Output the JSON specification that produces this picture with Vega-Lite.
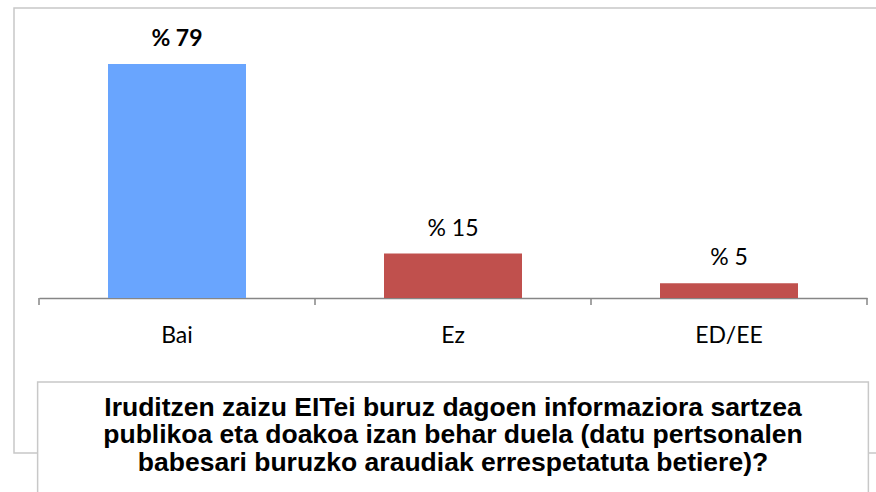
{
  "$schema": "https://vega.github.io/schema/vega-lite/v6.json",
  "width": 872,
  "height": 445,
  "autosize": "none",
  "padding": {"left": 14, "top": 8, "right": 0, "bottom": 39},
  "background": "white",
  "config": {
    "view": {"stroke": "#c8c8c8", "strokeWidth": 1.5}
  },
  "data": {
    "values": [
      {"cat": "Bai", "pct": 79, "label": "% 79"},
      {"cat": "Ez", "pct": 15, "label": "% 15"},
      {"cat": "ED/EE", "pct": 5, "label": "% 5"}
    ]
  },
  "encoding": {
    "x": {
      "field": "cat",
      "type": "nominal",
      "sort": ["Bai", "Ez", "ED/EE"],
      "scale": {"range": [25, 853], "paddingInner": 0.5, "paddingOuter": 0.25},
      "axis": {
        "title": null,
        "orient": "bottom",
        "offset": -155,
        "ticks": false,
        "domainColor": "#868686",
        "domainWidth": 1.5,
        "labelAngle": 0,
        "labelFont": "Lato",
        "labelFontSize": 23,
        "labelColor": "#000000",
        "labelPadding": 26
      }
    }
  },
  "layer": [
    {
      "mark": {"type": "bar"},
      "encoding": {
        "y": {
          "field": "pct",
          "type": "quantitative",
          "scale": {"domain": [-52.33, 97.9], "nice": false, "zero": false},
          "axis": null
        },
        "color": {
          "field": "cat",
          "type": "nominal",
          "scale": {"domain": ["Bai", "Ez", "ED/EE"], "range": ["#69a5fe", "#c0504d", "#c0504d"]},
          "legend": null
        }
      }
    },
    {
      "mark": {"type": "rule", "color": "#868686", "strokeWidth": 1.5},
      "encoding": {
        "x": {"field": "cat", "type": "nominal", "bandPosition": -0.5},
        "y": {"datum": 0},
        "y2": {"datum": -2.36}
      }
    },
    {
      "transform": [{"filter": "datum.cat === 'ED/EE'"}],
      "mark": {"type": "rule", "color": "#868686", "strokeWidth": 1.5},
      "encoding": {
        "x": {"field": "cat", "type": "nominal", "bandPosition": 1.5},
        "y": {"datum": 0},
        "y2": {"datum": -2.36}
      }
    },
    {
      "transform": [{"filter": "datum.cat === 'Bai'"}],
      "mark": {"type": "text", "font": "Lato", "fontSize": 23, "fontWeight": "bold", "baseline": "alphabetic", "dy": -18, "color": "#000000"},
      "encoding": {
        "y": {"field": "pct", "type": "quantitative"},
        "text": {"field": "label"}
      }
    },
    {
      "transform": [{"filter": "datum.cat !== 'Bai'"}],
      "mark": {"type": "text", "font": "Lato", "fontSize": 23, "baseline": "alphabetic", "dy": -18, "color": "#000000"},
      "encoding": {
        "y": {"field": "pct", "type": "quantitative"},
        "text": {"field": "label"}
      }
    },
    {
      "data": {"values": [{"box": "title"}]},
      "mark": {"type": "bar", "fill": "white", "stroke": "#c8c8c8", "strokeWidth": 1.5, "width": {"band": 6.02}},
      "encoding": {
        "x": {"datum": "Ez"},
        "y": {"datum": -28.36},
        "y2": {"datum": -80}
      }
    },
    {
      "data": {"values": [{"title": "Iruditzen zaizu EITei buruz dagoen informaziora sartzea\npublikoa eta doakoa izan behar duela (datu pertsonalen\nbabesari buruzko araudiak errespetatuta betiere)?"}]},
      "mark": {"type": "text", "font": "Liberation Sans", "fontSize": 26.5, "fontWeight": "bold", "lineBreak": "\n", "lineHeight": 27.8, "baseline": "middle", "align": "center", "color": "#000000"},
      "encoding": {
        "x": {"datum": "Ez"},
        "y": {"datum": -36.97},
        "text": {"field": "title"}
      }
    }
  ]
}
